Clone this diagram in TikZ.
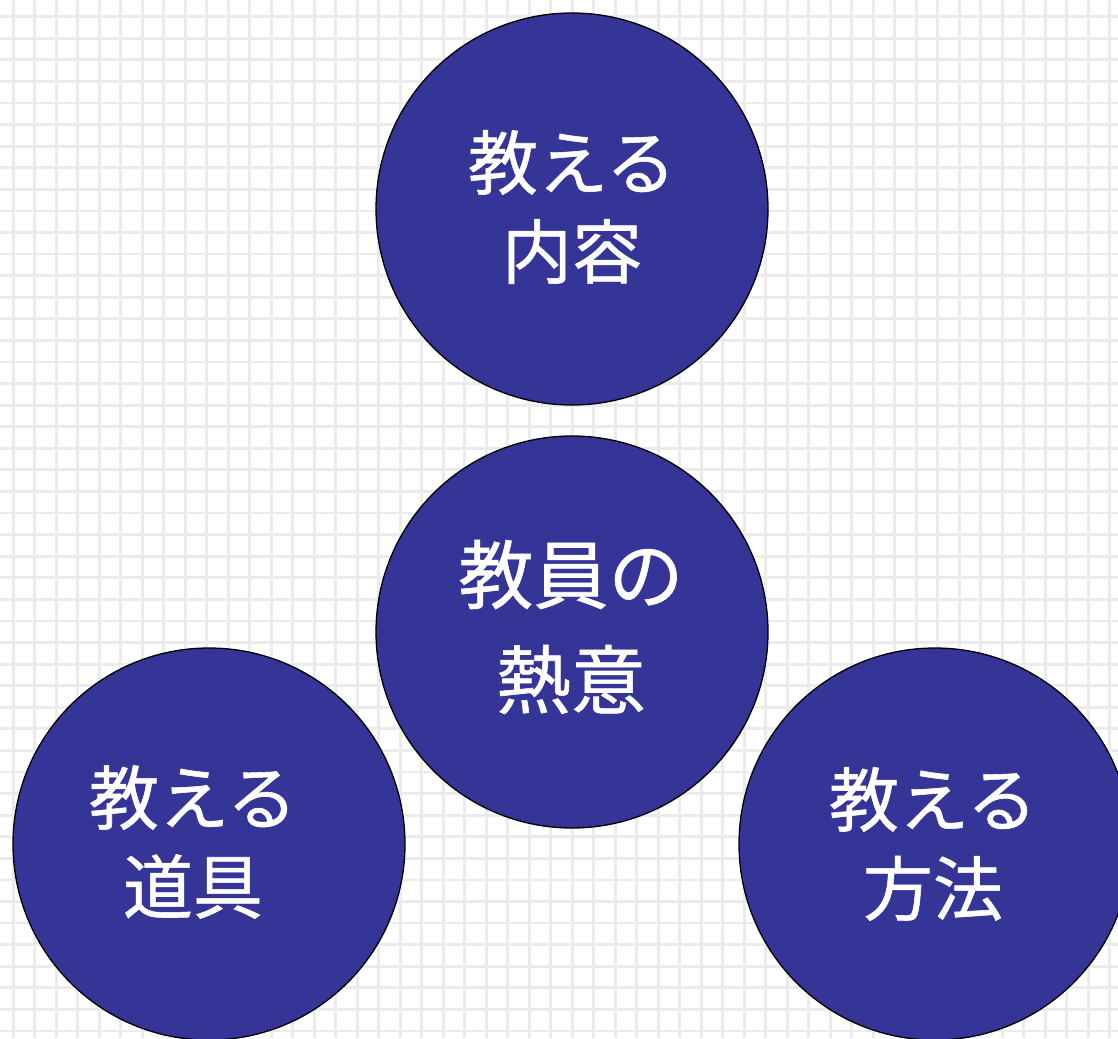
\documentclass[tikz,border=0pt]{standalone}
\usepackage{fontspec}
\newfontfamily\jpfont[FakeBold=0.8]{Noto Sans CJK JP}
\definecolor{circblue}{HTML}{353598}
\definecolor{gridgray}{HTML}{EBEBEB}
\tikzset{
  bubble/.style={circle, draw=black, line width=1.3pt, fill=circblue, minimum size=392pt, inner sep=0pt},
  bubtext/.style={text=white, align=center, font=\jpfont\fontsize{70}{89}\selectfont, inner sep=0pt},
  gridline/.style={draw=gridgray, line width=2.8pt}
}
\begin{document}
\begin{tikzpicture}[x=1pt,y=-1pt]
\useasboundingbox (0,0) rectangle (1118,1038);
\fill[white] (0,0) rectangle (1118,1038);
\foreach \k in {0,...,51} {
  \draw[gridline] ({13.3+21.5*\k},0) -- ({13.3+21.5*\k},1038);
}
\foreach \k in {0,...,47} {
  \draw[gridline] (0,{16.7+21.58*\k}) -- (1118,{16.7+21.58*\k});
}
\node[bubble] (top) at (572,209) {};
\node[bubble] (mid) at (572,632) {};
\node[bubble] (left) at (209,844) {};
\node[bubble] (right) at (935,844) {};
\node[bubtext] (toptext) at (572,207) {教える\\内容};
\node[bubtext, font=\jpfont\fontsize{75}{105}\selectfont] (midtext) at (571,627) {教員の\\熱意};
\node[bubtext] (lefttext) at (193,842) {教える\\道具};
\node[bubtext] (righttext) at (933,844) {教える\\方法};
\end{tikzpicture}
\end{document}
